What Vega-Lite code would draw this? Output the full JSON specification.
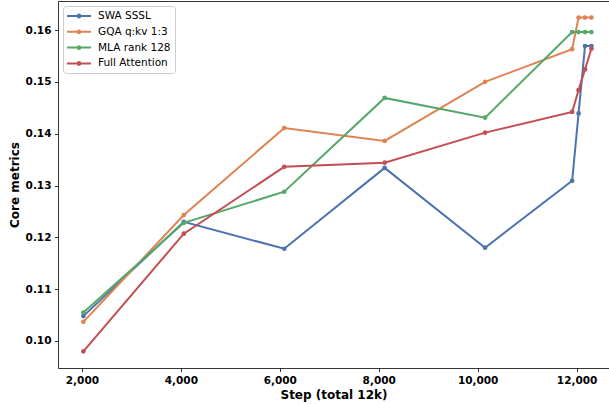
{
  "$schema": "https://vega.github.io/schema/vega-lite/v6.json",
  "width": 551,
  "height": 367,
  "autosize": {"type": "none"},
  "padding": {"left": 58, "top": 1, "right": 0, "bottom": 36},
  "background": "white",
  "config": {
    "font": "DejaVu Sans",
    "view": {"stroke": null},
    "axis": {
      "grid": false,
      "domainColor": "#000000",
      "domainWidth": 0.8,
      "tickColor": "#000000",
      "tickWidth": 0.8,
      "tickSize": 3.5,
      "labelPadding": 3.5,
      "labelFont": "DejaVu Sans",
      "labelFontSize": 10.5,
      "labelFontWeight": "bold",
      "labelColor": "#000000",
      "titleFont": "DejaVu Sans",
      "titleFontSize": 12,
      "titleFontWeight": "bold",
      "titleColor": "#000000"
    }
  },
  "data": {
    "values": [
      {"step": 2030, "model": "SWA SSSL", "value": 0.1048},
      {"step": 4060, "model": "SWA SSSL", "value": 0.1230},
      {"step": 6090, "model": "SWA SSSL", "value": 0.1178},
      {"step": 8120, "model": "SWA SSSL", "value": 0.1334},
      {"step": 10150, "model": "SWA SSSL", "value": 0.1180},
      {"step": 11910, "model": "SWA SSSL", "value": 0.1309},
      {"step": 12040, "model": "SWA SSSL", "value": 0.1439},
      {"step": 12170, "model": "SWA SSSL", "value": 0.1569},
      {"step": 12300, "model": "SWA SSSL", "value": 0.1569},
      {"step": 2030, "model": "GQA q:kv 1:3", "value": 0.1037},
      {"step": 4060, "model": "GQA q:kv 1:3", "value": 0.1243},
      {"step": 6090, "model": "GQA q:kv 1:3", "value": 0.1411},
      {"step": 8120, "model": "GQA q:kv 1:3", "value": 0.1386},
      {"step": 10150, "model": "GQA q:kv 1:3", "value": 0.1500},
      {"step": 11910, "model": "GQA q:kv 1:3", "value": 0.1563},
      {"step": 12040, "model": "GQA q:kv 1:3", "value": 0.1624},
      {"step": 12170, "model": "GQA q:kv 1:3", "value": 0.1624},
      {"step": 12300, "model": "GQA q:kv 1:3", "value": 0.1624},
      {"step": 2030, "model": "MLA rank 128", "value": 0.1055},
      {"step": 4060, "model": "MLA rank 128", "value": 0.1228},
      {"step": 6090, "model": "MLA rank 128", "value": 0.1288},
      {"step": 8120, "model": "MLA rank 128", "value": 0.1469},
      {"step": 10150, "model": "MLA rank 128", "value": 0.1431},
      {"step": 11910, "model": "MLA rank 128", "value": 0.1596},
      {"step": 12040, "model": "MLA rank 128", "value": 0.1596},
      {"step": 12170, "model": "MLA rank 128", "value": 0.1596},
      {"step": 12300, "model": "MLA rank 128", "value": 0.1596},
      {"step": 2030, "model": "Full Attention", "value": 0.0980},
      {"step": 4060, "model": "Full Attention", "value": 0.1207},
      {"step": 6090, "model": "Full Attention", "value": 0.1336},
      {"step": 8120, "model": "Full Attention", "value": 0.1344},
      {"step": 10150, "model": "Full Attention", "value": 0.1402},
      {"step": 11910, "model": "Full Attention", "value": 0.1442},
      {"step": 12040, "model": "Full Attention", "value": 0.1484},
      {"step": 12170, "model": "Full Attention", "value": 0.1524},
      {"step": 12300, "model": "Full Attention", "value": 0.1564}
    ]
  },
  "encoding": {
    "x": {
      "field": "step",
      "type": "quantitative",
      "scale": {"domain": [1517, 12655], "nice": false, "zero": false}
    },
    "y": {
      "field": "value",
      "type": "quantitative",
      "scale": {"domain": [0.09479, 0.1656], "nice": false, "zero": false},
      "axis": {
        "title": "Core metrics",
        "values": [0.10, 0.11, 0.12, 0.13, 0.14, 0.15, 0.16],
        "format": ".2f",
        "titlePadding": 4
      }
    },
    "color": {
      "field": "model",
      "type": "nominal",
      "scale": {
        "domain": ["SWA SSSL", "GQA q:kv 1:3", "MLA rank 128", "Full Attention"],
        "range": ["#4C72B0", "#DD8452", "#55A868", "#C44E52"]
      },
      "legend": {
        "title": null,
        "orient": "none",
        "legendX": 5,
        "legendY": 5,
        "padding": 4,
        "symbolType": "M-2,-0.17H2V0.17H-2Z M-0.4,0A0.4,0.4 0 1,1 0.4,0A0.4,0.4 0 1,1 -0.4,0Z",
        "symbolSize": 144,
        "symbolOffset": 6,
        "symbolStrokeWidth": 0,
        "labelOffset": 13,
        "labelFont": "DejaVu Sans",
        "labelFontSize": 10.5,
        "labelColor": "#000000",
        "rowPadding": 3.8,
        "strokeColor": "#cccccc",
        "fillColor": "rgba(255,255,255,0.8)",
        "cornerRadius": 3,
        "encode": {
          "symbols": {
            "update": {
              "fill": {"scale": "color", "field": "value"},
              "stroke": {"value": "transparent"},
              "strokeWidth": {"value": 0},
              "opacity": {"value": 1}
            }
          }
        }
      }
    }
  },
  "layer": [
    {
      "mark": {"type": "line", "strokeWidth": 2, "clip": true},
      "encoding": {
        "x": {
          "field": "step",
          "type": "quantitative",
          "axis": {
            "title": "Step (total 12k)",
            "values": [2000, 4000, 6000, 8000, 10000, 12000],
            "format": ",.0f",
            "titlePadding": 3.5
          }
        }
      }
    },
    {
      "mark": {"type": "circle", "size": 22, "opacity": 1, "clip": true},
      "encoding": {
        "x": {
          "field": "step",
          "type": "quantitative",
          "axis": {
            "orient": "top",
            "title": null,
            "labels": false,
            "ticks": false,
            "domain": true
          }
        }
      }
    }
  ],
  "resolve": {"axis": {"x": "independent"}}
}
